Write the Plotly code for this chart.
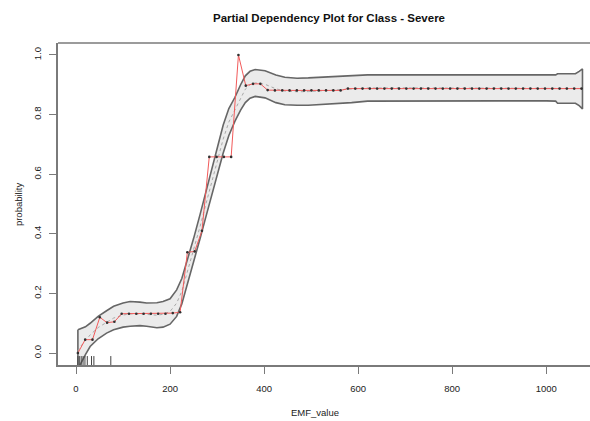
import plotly.graph_objects as go

# Partial dependence of P(Severe) on EMF_value
grid_x = [4.0, 19.5, 35.0, 50.6, 66.1, 81.6, 97.1, 112.6, 128.2, 143.7,
          159.2, 174.7, 190.2, 205.8, 221.3, 236.8, 252.3, 267.8, 283.4, 298.9,
          314.4, 329.9, 345.4, 361.0, 376.5, 392.0, 407.5, 423.0, 438.6, 454.1,
          469.6, 485.1, 500.6, 516.2, 531.7, 547.2, 562.7, 578.2, 593.8, 609.3,
          624.8, 640.3, 655.8, 671.4, 686.9, 702.4, 717.9, 733.4, 749.0, 764.5,
          780.0, 795.5, 811.0, 826.6, 842.1, 857.6, 873.1, 888.6, 904.2, 919.7,
          935.2, 950.7, 966.2, 981.8, 997.3, 1012.8, 1028.3, 1043.8, 1059.4, 1074.9]
pd_prob = [0.000, 0.045, 0.045, 0.120, 0.102, 0.105, 0.132, 0.132, 0.132, 0.132,
           0.132, 0.132, 0.132, 0.134, 0.137, 0.338, 0.341, 0.410, 0.658, 0.658,
           0.658, 0.658, 1.000, 0.897, 0.903, 0.903, 0.882, 0.881, 0.881, 0.881,
           0.881, 0.881, 0.881, 0.881, 0.881, 0.881, 0.881, 0.887, 0.887, 0.887,
           0.887, 0.887, 0.887, 0.887, 0.887, 0.887, 0.887, 0.887, 0.887, 0.887,
           0.887, 0.887, 0.887, 0.887, 0.887, 0.887, 0.887, 0.887, 0.887, 0.887,
           0.887, 0.887, 0.887, 0.887, 0.887, 0.887, 0.887, 0.887, 0.887, 0.887]

# Smoothed fit with its confidence band
band_x = [4, 10, 20, 30, 47, 65, 80, 100, 115, 136,
          150, 172, 185, 200, 214, 225, 235, 250, 264, 275,
          290, 299, 313, 325, 338, 350, 360, 370, 381, 402,
          425, 444, 470, 494, 540, 586, 620, 700, 800, 900,
          1000, 1020, 1024, 1062, 1070, 1077]
band_upper = [0.078, 0.081, 0.088, 0.100, 0.123, 0.142, 0.157, 0.168, 0.173, 0.171,
              0.168, 0.169, 0.173, 0.182, 0.212, 0.250, 0.302, 0.384, 0.466, 0.535,
              0.625, 0.680, 0.765, 0.820, 0.858, 0.900, 0.930, 0.945, 0.951, 0.947,
              0.933, 0.925, 0.922, 0.923, 0.927, 0.932, 0.933, 0.933, 0.933, 0.933,
              0.933, 0.933, 0.937, 0.937, 0.945, 0.953]
band_lower = [-0.065, -0.035, -0.005, 0.022, 0.048, 0.067, 0.078, 0.087, 0.090, 0.092,
              0.090, 0.085, 0.087, 0.097, 0.123, 0.165, 0.224, 0.303, 0.385, 0.450,
              0.540, 0.592, 0.671, 0.730, 0.778, 0.815, 0.840, 0.855, 0.861, 0.856,
              0.840, 0.833, 0.831, 0.831, 0.835, 0.840, 0.845, 0.846, 0.846, 0.846,
              0.846, 0.845, 0.838, 0.838, 0.830, 0.819]
band_fit = [(u + l) / 2 for u, l in zip(band_upper, band_lower)]

# Observed EMF values shown as a rug
rug_x = [4, 7, 11, 15, 19, 24, 33, 38, 74]

x_ticks = [0, 200, 400, 600, 800, 1000]
y_ticks = [0.0, 0.2, 0.4, 0.6, 0.8, 1.0]
y_labels = ["0.0", "0.2", "0.4", "0.6", "0.8", "1.0"]

FONT = "Liberation Sans, Arial, Helvetica, sans-serif"
FRAME = "#7a7a7a"

fig = go.Figure()

# confidence band polygon
fig.add_trace(go.Scatter(
    x=band_x + band_x[::-1] + [band_x[0]],
    y=band_upper + band_lower[::-1] + [band_upper[0]],
    mode="lines", fill="toself", fillcolor="#ebebeb",
    line=dict(color="#666666", width=1.6), hoverinfo="skip", showlegend=False))

# smoothed fit
fig.add_trace(go.Scatter(
    x=band_x, y=band_fit, mode="lines",
    line=dict(color="#a8a8a8", width=1, dash="dot"), showlegend=False))

# raw partial dependence
fig.add_trace(go.Scatter(
    x=grid_x, y=pd_prob, mode="lines+markers",
    line=dict(color="#f25a5a", width=1),
    marker=dict(color="#303030", size=2.6), showlegend=False))

# rug
rx, ry = [], []
for v in rug_x:
    rx += [v, v, None]
    ry += [-0.04, -0.01, None]
fig.add_trace(go.Scatter(x=rx, y=ry, mode="lines",
                         line=dict(color="#444444", width=1), showlegend=False))

fig.update_layout(
    width=590, height=421,
    margin=dict(l=58, r=0, t=43, b=56),
    paper_bgcolor="white", plot_bgcolor="white",
    font=dict(family=FONT, size=9.5, color="#222222"),
    xaxis=dict(range=[-38.3, 1093], tickvals=x_ticks, ticks="outside",
               ticklen=7, tickcolor=FRAME, tickwidth=1, showgrid=False,
               zeroline=False, showline=True, linecolor=FRAME, linewidth=1.5,
               mirror=False, ticklabelstandoff=7),
    yaxis=dict(range=[-0.04, 1.04], tickvals=y_ticks, ticktext=y_labels,
               ticks="outside", ticklen=7, tickcolor=FRAME, tickwidth=1,
               tickangle=-90, showgrid=False, zeroline=False, showline=True,
               linecolor=FRAME, linewidth=1.5, mirror=False,
               ticklabelstandoff=4),
    shapes=[dict(type="line", xref="paper", yref="paper", x0=0, x1=1.01,
                 y0=1, y1=1, line=dict(color=FRAME, width=1.5))],
    annotations=[
        dict(text="<b>Partial Dependency Plot for Class - Severe</b>",
             xref="paper", yref="paper", x=0.509, y=1.078,
             xanchor="center", yanchor="middle", showarrow=False,
             font=dict(family=FONT, size=11.5, color="#111111")),
        dict(text="EMF_value", xref="paper", yref="paper", x=0.483, y=-0.149,
             xanchor="center", yanchor="middle", showarrow=False,
             font=dict(family=FONT, size=9.5, color="#222222")),
        dict(text="probability", xref="paper", yref="paper", x=-0.075, y=0.5,
             xanchor="center", yanchor="middle", textangle=-90, showarrow=False,
             font=dict(family=FONT, size=9.5, color="#222222")),
    ],
)

fig.write_html("out.html")
